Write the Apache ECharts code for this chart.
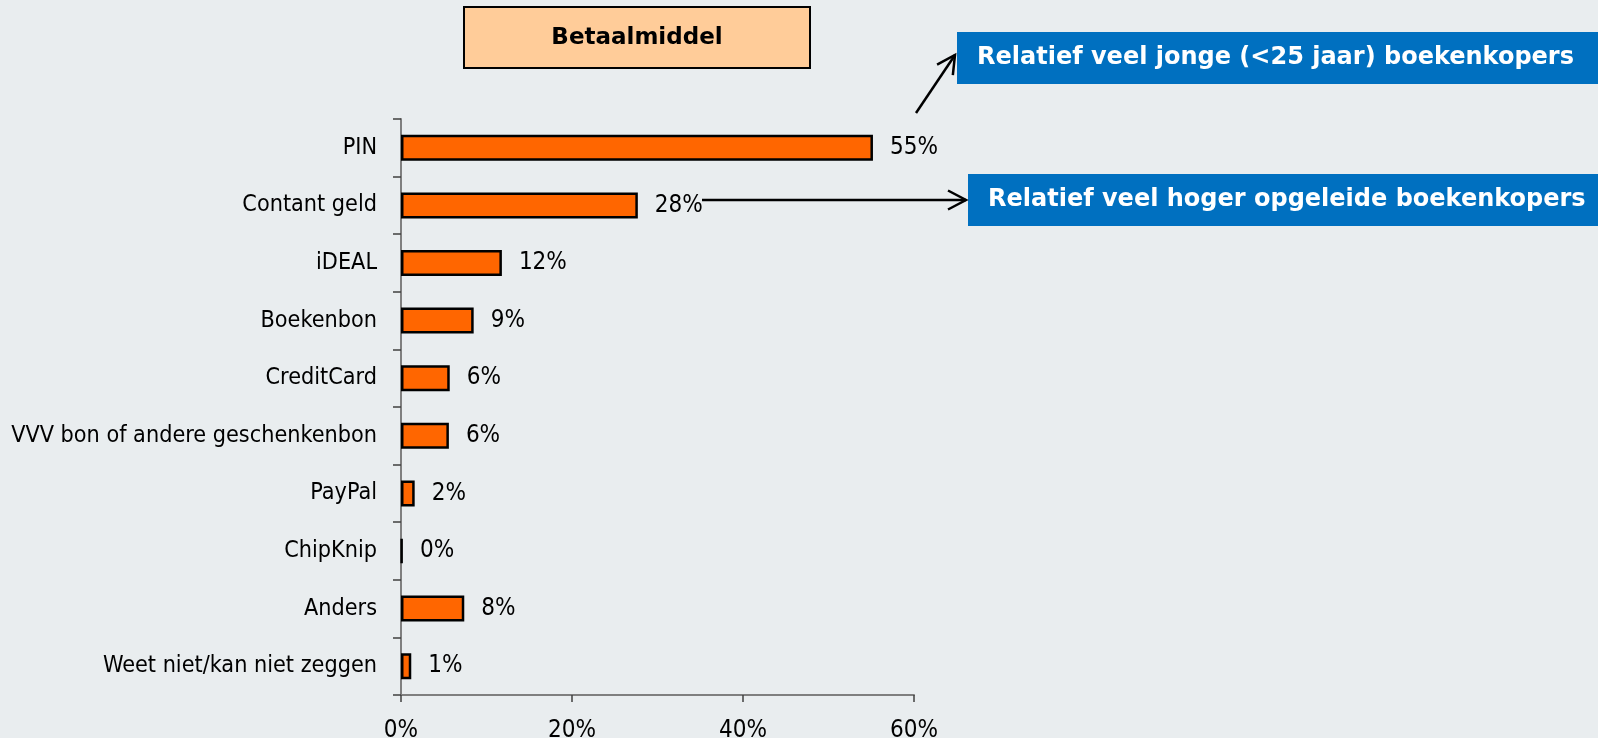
<!DOCTYPE html>
<html>
<head>
<meta charset="utf-8">
<script src="https://cdn.jsdelivr.net/npm/echarts@6/dist/echarts.min.js"></script>
<style>
  html, body { margin: 0; padding: 0; background: #E9EDEF; }
  #chart { width: 1598px; height: 738px; }
</style>
</head>
<body>
<div id="chart"></div>
<script>
  // categorieen en waarden (in %)
  var categories = ['PIN', 'Contant geld', 'iDEAL', 'Boekenbon', 'CreditCard',
    'VVV bon of andere geschenkenbon', 'PayPal', 'ChipKnip', 'Anders', 'Weet niet/kan niet zeggen']
  var values = [55.2, 27.7, 11.8, 8.5, 5.7, 5.6, 1.6, 0.15, 7.4, 1.2]
  var valueLabels = ['55%', '28%', '12%', '9%', '6%', '6%', '2%', '0%', '8%', '1%']
  var xTicks = [0, 20, 40, 60]

  var titleText = 'Betaalmiddel'
  var note1 = 'Relatief veel jonge (<25 jaar) boekenkopers'
  var note2 = 'Relatief veel hoger opgeleide boekenkopers'

  var font = '"DejaVu Sans Condensed", "DejaVu Sans", sans-serif'
  var boldFont = '"DejaVu Sans", sans-serif'

  // lijn met open pijlpunt
  function arrow (x1, y1, x2, y2) {
    var dx = x2 - x1, dy = y2 - y1
    var len = Math.sqrt(dx * dx + dy * dy)
    var ux = dx / len, uy = dy / len
    var px = -uy, py = ux
    var bx = x2 - 18 * ux, by = y2 - 18 * uy
    var st = { stroke: '#000', lineWidth: 2.5, fill: null }
    return [
      { type: 'line', shape: { x1: x1, y1: y1, x2: x2, y2: y2 }, style: st },
      { type: 'polyline', shape: { points: [[bx + 9.5 * px, by + 9.5 * py], [x2, y2], [bx - 9.5 * px, by - 9.5 * py]] }, style: st }
    ]
  }

  var chart = echarts.init(document.getElementById('chart'))

  var graphics = [
    // titelvak
    { type: 'rect', shape: { x: 464, y: 7, width: 346, height: 61 },
      style: { fill: '#FFCC99', stroke: '#000', lineWidth: 2 } },
    { type: 'text', x: 637, y: 38,
      style: { text: titleText, font: 'bold 23px ' + boldFont, fill: '#000', align: 'center', verticalAlign: 'middle' } },
    // blauwe notities
    { type: 'rect', shape: { x: 957, y: 32, width: 660, height: 52 }, style: { fill: '#0070C0' } },
    { type: 'text', x: 977, y: 58,
      style: { text: note1, font: 'bold 24px ' + boldFont, fill: '#fff', verticalAlign: 'middle' } },
    { type: 'rect', shape: { x: 968, y: 174, width: 660, height: 52 }, style: { fill: '#0070C0' } },
    { type: 'text', x: 988, y: 200,
      style: { text: note2, font: 'bold 24px ' + boldFont, fill: '#fff', verticalAlign: 'middle' } }
  ].concat(arrow(916, 113, 955, 55)).concat(arrow(702, 200, 966, 200))

  chart.setOption({
    backgroundColor: '#E9EDEF',
    animation: false,
    grid: { left: 401, right: 684, top: 119, bottom: 43, outerBoundsMode: 'none', containLabel: false },
    xAxis: {
      type: 'value',
      min: xTicks[0],
      max: xTicks[xTicks.length - 1],
      interval: xTicks[1] - xTicks[0],
      axisLine: { show: true, lineStyle: { color: '#7f7f7f', width: 2 } },
      axisTick: { show: true, length: 7, lineStyle: { color: '#404040', width: 1.5 } },
      splitLine: { show: false },
      axisLabel: { formatter: '{value}%', fontFamily: font, fontSize: 24, color: '#000', margin: 24 }
    },
    yAxis: {
      type: 'category',
      inverse: true,
      data: categories,
      axisLine: { show: true, lineStyle: { color: '#7f7f7f', width: 2 } },
      axisTick: { show: true, length: 8, lineStyle: { color: '#404040', width: 1.5 } },
      axisLabel: { fontFamily: font, fontSize: 23.2, color: '#000', margin: 24 }
    },
    series: [{
      type: 'bar',
      data: values,
      barWidth: 26,
      itemStyle: { color: '#FF6600', borderColor: '#000', borderWidth: 2.5 },
      label: {
        show: true,
        position: 'right',
        distance: 17,
        fontFamily: font,
        fontSize: 24,
        color: '#000',
        formatter: function (p) { return valueLabels[p.dataIndex] }
      }
    }],
    graphic: graphics
  })
</script>
</body>
</html>
